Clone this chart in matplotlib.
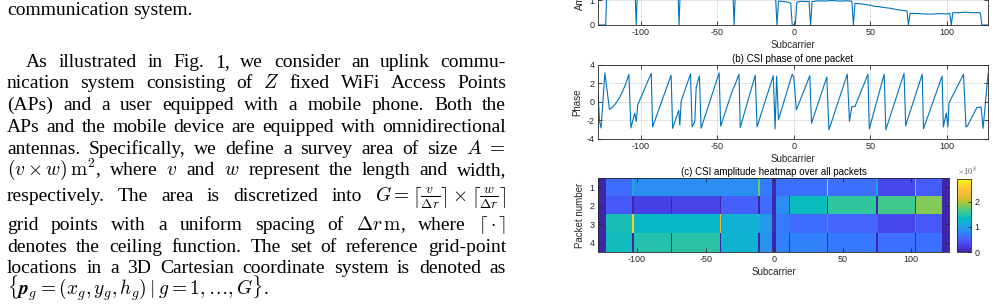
import numpy as np
import matplotlib
matplotlib.use("Agg")
import matplotlib.pyplot as plt
from matplotlib.colors import LinearSegmentedColormap
from matplotlib.transforms import IdentityTransform

# ---------------- data ----------------
# (a) amplitude of one packet: vertices (subcarrier, amplitude)
amp_sc = [-128, -123, -122, -104, -103, -102, -76, -75, -74, -40, -39, -38, -12, -11,
          -10, -7, -4, -2, -1, 1, 2, 5, 8, 10, 11, 12, 16, 20, 25, 30, 35, 38, 39,
          40, 43, 46, 48, 50, 53, 56, 60, 63, 66, 70, 74, 75, 76, 80, 85, 90, 95,
          100, 102, 103, 104, 108, 112, 116, 121, 122, 123, 127]
amp_val = [0, 0, 1.75, 1.8, 0, 1.85, 1.9, 0, 1.85, 1.7, 0, 1.65, 1.3, 0,
           0.97, 0.95, 0.93, 0.88, 0, 0, 0.93, 0.96, 0.95, 0.96, 0, 0.95, 0.98, 0.97,
           0.99, 0.97, 0.98, 0.96, 0,
           0.88, 0.86, 0.84, 0.82, 0.80, 0.76, 0.74, 0.70, 0.68, 0.64, 0.60, 0.57, 0,
           0.47, 0.47, 0.45, 0.44, 0.46, 0.45, 0.47, 0, 0.50, 0.50, 0.52, 0.50, 0.50,
           0.49, 0, 0]

# (b) phase of one packet: vertices (subcarrier, phase)
ph_sc = [-128, -127, -126, -123.5, -120.5, -118.5, -116.5, -114, -112, -110, -107.8,
         -106.5, -104, -103, -102, -93.2, -92.3, -80.2, -79.2, -75.2, -74.5, -73.6,
         -67.5, -66.5, -64.7, -63.8, -61.7, -60.6, -48.8, -47.8, -39.8, -38.8, -35.8,
         -35.0, -25.2, -24.0, -13.4, -12.2, -11.2, -10.0, -1.0, 0.0, 1.7, 10.5, 11.6,
         21.6, 23.0, 35.0, 36.4, 38.0, 40.0, 48.5, 49.4, 59.1, 60.2, 72.1, 73.2, 74.0,
         84.0, 84.8, 97.0, 97.8, 99.7, 100.8, 101.5, 111.0, 112.6, 113.5, 119.7,
         122.5, 123.8, 127.0]
ph_val = [1.1, -2.1, -2.8, 3.15, -0.8, -0.55, -0.17, 0.44, 1.13, 1.91, 3.0,
          -2.8, -1.2, -2.1, -0.3, 3.1, -2.7, 2.9, -2.85, -0.9, -2.5, 0.1,
          3.05, -2.7, -2.1, 1.6, 2.8, -2.85, 3.15, -2.6, 1.4, 1.7, 3.0,
          -2.75, 2.9, -2.7, 2.85, -2.9, 2.8, -1.9, 3.0, 2.7, -0.85, 2.85, -2.3,
          2.7, -3.0, 3.0, -2.1, -0.5, -0.5, 3.0, -2.9, 3.0, -3.0, 3.1, -2.6, -2.1,
          3.0, -2.9, 2.8, -2.7, -1.2, -2.7, -0.1, 3.0, -2.7, -2.6, -0.6,
          -0.55, -2.85, 3.0]

# (c) heatmap: subcarrier segments (first, last) and amplitude (x1e8) per packet
seg_first = [-128, -122, -103, -102, -75, -74, -39, -38, -11, -10, -1, 2, 11, 12, 39, 40, 75, 76, 103, 104, 123]
seg_last  = [-123, -104, -103, -76, -75, -40, -39, -12, -11, -2, 1, 10, 11, 38, 39, 74, 75, 102, 103, 122, 127]
packet1 = [0, 0.60, 1.05, 0.85, 0.85, 0.85, 0.85, 0.85, 1.75, 0.70, 0.05, 0.62, 0.62, 0.62, 2.45, 0.62, 1.05, 0.32, 2.10, 0.48, 0]
packet2 = [0, 0.45, 0, 0.27, 0, 0.30, 0, 0.50, 0, 0.60, 0, 0.85, 0, 1.35, 0, 1.55, 0, 1.62, 0, 1.85, 0]
packet3 = [0, 1.40, 2.55, 1.30, 1.30, 1.28, 2.25, 1.20, 1.10, 0.95, 0.05, 0.70, 0.65, 0.60, 1.30, 0.55, 0.50, 0.32, 0.80, 0.45, 0]
packet4 = [0, 1.38, 0, 1.45, 0, 1.50, 0, 1.22, 0, 0.90, 0, 0.75, 0, 0.75, 0, 0.68, 0, 0.62, 0, 0.62, 0]
packets = [1, 2, 3, 4]

# ---------------- style ----------------
plt.rcParams["font.family"] = ["Liberation Sans", "DejaVu Sans"]
plt.rcParams["mathtext.fontset"] = "cm"
plt.rcParams["axes.unicode_minus"] = False

parula_rgb = [
    (0.2422, 0.1504, 0.6603), (0.2647, 0.1978, 0.7952), (0.2783, 0.2559, 0.8991),
    (0.2810, 0.3228, 0.9579), (0.2699, 0.3892, 0.9906), (0.2206, 0.4603, 0.9973),
    (0.1786, 0.5289, 0.9682), (0.1540, 0.5902, 0.9218), (0.1248, 0.6459, 0.8883),
    (0.0689, 0.6948, 0.8394), (0.0067, 0.7312, 0.7660), (0.1408, 0.7584, 0.6842),
    (0.2161, 0.7843, 0.5923), (0.3406, 0.8008, 0.4789), (0.5044, 0.7993, 0.3480),
    (0.6720, 0.7793, 0.2227), (0.8203, 0.7498, 0.1535), (0.9393, 0.7288, 0.2100),
    (0.9956, 0.7434, 0.2371), (0.9970, 0.7659, 0.2199), (0.9786, 0.8386, 0.1766),
    (0.9597, 0.9135, 0.1423), (0.9769, 0.9839, 0.0805)]
parula = LinearSegmentedColormap.from_list("parula", parula_rgb, N=256)

W, H = 997, 306
fig = plt.figure(figsize=(W / 100, H / 100), dpi=100)
fig.patch.set_facecolor("white")


def px_axes(l, t, r, b):
    return fig.add_axes([l / W, 1 - b / H, (r - l) / W, (b - t) / H])


AXC = "#262626"
LINE = "#0072BD"


def style(ax, grid=True):
    for s in ax.spines.values():
        s.set_color(AXC)
        s.set_linewidth(0.6)
    ax.tick_params(direction="in", length=3, width=0.6, colors=AXC, labelsize=6.5,
                   top=True, right=True, pad=2.5)
    if grid:
        ax.grid(True, color="#dedede", lw=0.6)
        ax.set_axisbelow(True)


xt = [-100, -50, 0, 50, 100]

# (a)
axa = px_axes(598, -49, 988, 25)
axa.plot(amp_sc, amp_val, color=LINE, lw=0.8)
axa.set_xlim(-128, 127)
axa.set_ylim(0, 3)
axa.set_xticks(xt)
axa.set_yticks([0, 1, 2, 3])
style(axa)
axa.set_xlabel("Subcarrier", fontsize=7, labelpad=2, color=AXC)
axa.set_ylabel("Amplitude", fontsize=7, labelpad=3, color=AXC)

# (b)
axb = px_axes(598, 65, 988, 139)
axb.plot(ph_sc, ph_val, color=LINE, lw=0.8)
axb.set_xlim(-128, 127)
axb.set_ylim(-4, 4)
axb.set_xticks(xt)
axb.set_yticks([-4, -2, 0, 2, 4])
style(axb)
axb.set_title("(b) CSI phase of one packet", fontsize=7, pad=2)
axb.set_xlabel("Subcarrier", fontsize=7, labelpad=2, color=AXC)
axb.set_ylabel("Phase", fontsize=7, labelpad=3, color=AXC)

# (c)
seg_len = [b - a + 1 for a, b in zip(seg_first, seg_last)]
M = np.array([np.repeat(p, seg_len) for p in (packet1, packet2, packet3, packet4)])
axc = px_axes(598, 178, 949, 252)
im = axc.imshow(M, cmap=parula, vmin=0, vmax=2.9, aspect="auto",
                interpolation="nearest",
                extent=(seg_first[0] - 0.5, seg_last[-1] + 0.5, 4.5, 0.5))
axc.set_xticks(xt)
axc.set_yticks(packets)
style(axc, grid=False)
axc.set_title("(c) CSI amplitude heatmap over all packets", fontsize=7, pad=2)
axc.set_xlabel("Subcarrier", fontsize=7, labelpad=2, color=AXC)
axc.set_ylabel("Packet number", fontsize=7, labelpad=3, color=AXC)

cax = px_axes(957, 179, 971, 252)
cb = fig.colorbar(im, cax=cax)
cb.set_ticks([0, 1, 2])
cb.outline.set_edgecolor(AXC)
cb.outline.set_linewidth(0.6)
cax.tick_params(direction="in", length=2, width=0.6, colors=AXC, labelsize=6.5, pad=2.5)
fig.text(957 / W, 1 - 177 / H, r"$\times10^{8}$", fontsize=6, color="#555555",
         ha="left", va="bottom", family="DejaVu Sans")

# ---------------- body text (justified) ----------------
TXT_SIZE = 14
X_LEFT, X_RIGHT, INDENT = 7, 506, 26
lines = [
    (["communication", "system."], 15, X_LEFT, False),
    (["As", "illustrated", "in", "Fig.", "1,", "we", "consider", "an", "uplink", "commu-"], 67, INDENT, True),
    (["nication", "system", "consisting", "of", "$Z$", "fixed", "WiFi", "Access", "Points"], 88.5, X_LEFT, True),
    (["(APs)", "and", "a", "user", "equipped", "with", "a", "mobile", "phone.", "Both", "the"], 110, X_LEFT, True),
    (["APs", "and", "the", "mobile", "device", "are", "equipped", "with", "omnidirectional"], 132, X_LEFT, True),
    (["antennas.", "Specifically,", "we", "define", "a", "survey", "area", "of", "size", "$A\\ =$"], 153.5, X_LEFT, True),
    (["$(v\\times w)\\,\\mathrm{m}^2$,", "where", "$v$", "and", "$w$", "represent", "the", "length", "and", "width,"], 175, X_LEFT, True),
    (["respectively.", "The", "area", "is", "discretized", "into",
      "$G=\\left\\lceil\\frac{v}{\\Delta r}\\right\\rceil\\times\\left\\lceil\\frac{w}{\\Delta r}\\right\\rceil$"], 201, X_LEFT, True),
    (["grid", "points", "with", "a", "uniform", "spacing", "of", "$\\Delta r\\,\\mathrm{m}$,", "where", "$\\lceil\\cdot\\rceil$"], 230, X_LEFT, True),
    (["denotes", "the", "ceiling", "function.", "The", "set", "of", "reference", "grid-point"], 252, X_LEFT, True),
    (["locations", "in", "a", "3D", "Cartesian", "coordinate", "system", "is", "denoted", "as"], 273, X_LEFT, True),
    (["$\\{\\boldsymbol{p}_g=(x_g,y_g,h_g)\\mid g=1,\\ldots,G\\}$."], 295, X_LEFT, False),
]

renderer = fig.canvas.get_renderer()
space_w = TXT_SIZE * 100 / 72 * 0.25
for tokens, yb, x0, just in lines:
    objs = [fig.text(0, H - yb, tok, family="Liberation Serif", fontsize=TXT_SIZE,
                     va="baseline", ha="left", transform=IdentityTransform(), color="black")
            for tok in tokens]
    widths = [o.get_window_extent(renderer).width for o in objs]
    if just and len(objs) > 1:
        gap = (X_RIGHT - x0 - sum(widths)) / (len(objs) - 1)
    else:
        gap = space_w
    x = x0
    for o, w in zip(objs, widths):
        o.set_x(x)
        x += w + gap

fig.savefig("out.png", dpi=100, facecolor="white")
